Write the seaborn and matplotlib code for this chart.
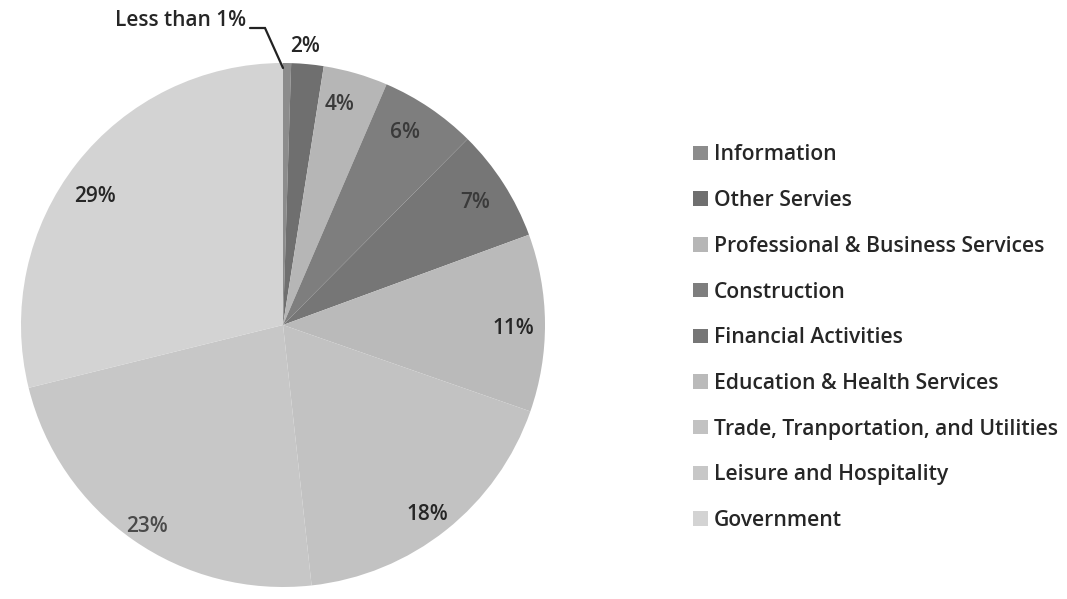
import matplotlib
matplotlib.use("Agg")
import matplotlib.pyplot as plt
import seaborn as sns
import numpy as np

# Employment share by industry (percent)
industries = [
    "Information",
    "Other Servies",
    "Professional & Business Services",
    "Construction",
    "Financial Activities",
    "Education & Health Services",
    "Trade, Tranportation, and Utilities",
    "Leisure and Hospitality",
    "Government",
]
shares = [0.5, 2, 4, 6, 7, 11, 18, 23, 29]
share_labels = ["Less than 1%", "2%", "4%", "6%", "7%", "11%", "18%", "23%", "29%"]

slice_colors = ["#8c8c8c", "#6f6f6f", "#b6b6b6", "#7e7e7e", "#767676",
                "#bababa", "#c2c2c2", "#c7c7c7", "#d3d3d3"]

sns.set_theme(style="white")
plt.rcParams["font.family"] = ["Open Sans", "DejaVu Sans"]

W, H = 1067, 599
fig = plt.figure(figsize=(W / 100, H / 100), dpi=100)

cx, cy, r = 283, 325, 262
ax = fig.add_axes([(cx - r) / W, (H - cy - r) / H, 2 * r / W, 2 * r / H])
wedges, _ = ax.pie(shares, colors=slice_colors, startangle=90, counterclock=False,
                   radius=1, wedgeprops=dict(linewidth=0))
ax.set_xlim(-1, 1)
ax.set_ylim(-1, 1)
ax.set_aspect("equal")
ax.axis("off")


def to_data(px, py):
    return (px - cx) / r, (cy - py) / r


# label anchor positions in pixel space of the figure
label_px = [(246, 20), (305, 46), (340, 104), (405, 133), (475, 202),
            (513, 329), (427, 515), (147, 526), (95, 196)]
label_colors = ["#262626", "#262626", "#3a3a3a", "#3a3a3a", "#3a3a3a",
                "#262626", "#262626", "#4a4a4a", "#262626"]
for i, (txt, (px, py)) in enumerate(zip(share_labels, label_px)):
    x, y = to_data(px, py)
    ha = "right" if i == 0 else "center"
    ax.text(x, y, txt, ha=ha, va="center", fontsize=15, fontweight="semibold",
            color=label_colors[i], clip_on=False)

# leader line for the smallest slice
pts = [to_data(250, 28), to_data(265, 28), to_data(283, 68)]
ax.plot([p[0] for p in pts], [p[1] for p in pts], color="#222222", lw=1.6,
        clip_on=False, solid_joinstyle="miter")

leg = fig.legend(wedges, industries, loc="upper left",
                 bbox_to_anchor=(685 / W, 1 - 136 / H), frameon=False,
                 fontsize=15.2, labelspacing=1.17, handlelength=0.68,
                 handleheight=0.68, handletextpad=0.3, borderaxespad=0)
for t in leg.get_texts():
    t.set_color("#262626")
    t.set_fontweight("semibold")

fig.savefig("out.png", dpi=100, facecolor="white")
